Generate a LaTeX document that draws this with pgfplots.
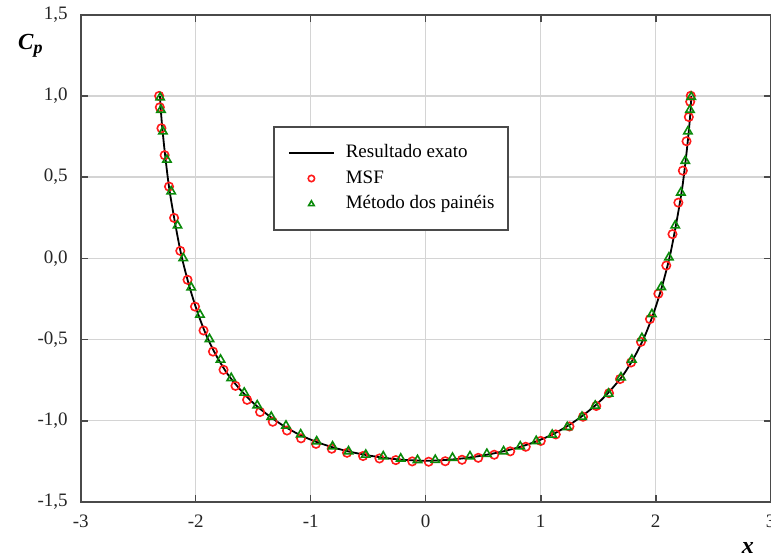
\documentclass[border=0pt]{standalone}
\usepackage{fontspec}
\setmainfont{Liberation Serif}
\usepackage{pgfplots}
\pgfplotsset{compat=1.18}

\definecolor{gridgray}{HTML}{D4D4D4}
\definecolor{axgray}{HTML}{4A4A4A}
\definecolor{msfred}{HTML}{FF1A1A}
\definecolor{pangreen}{HTML}{0A8A0A}

% exact solution
\pgfplotstableread{
x y
-2.310 1.000
-2.305 0.930
-2.290 0.800
-2.265 0.630
-2.230 0.430
-2.180 0.220
-2.125 0.020
-2.060 -0.160
-1.990 -0.320
-1.910 -0.470
-1.820 -0.600
-1.720 -0.715
-1.610 -0.810
-1.500 -0.890
-1.380 -0.960
-1.250 -1.025
-1.100 -1.085
-0.950 -1.130
-0.800 -1.165
-0.650 -1.192
-0.500 -1.213
-0.350 -1.229
-0.200 -1.240
0.000 -1.246
0.200 -1.240
0.350 -1.229
0.500 -1.213
0.650 -1.192
0.800 -1.165
0.950 -1.130
1.100 -1.085
1.250 -1.025
1.380 -0.960
1.500 -0.890
1.610 -0.810
1.720 -0.715
1.820 -0.600
1.910 -0.470
1.990 -0.320
2.060 -0.160
2.125 0.020
2.180 0.220
2.230 0.430
2.265 0.630
2.290 0.800
2.305 0.930
2.310 1.000
}\exato

% MSF
\pgfplotstableread{
x y
-2.318 1.000
-2.312 0.930
-2.298 0.801
-2.270 0.635
-2.232 0.442
-2.188 0.249
-2.134 0.046
-2.071 -0.132
-2.006 -0.297
-1.932 -0.444
-1.850 -0.574
-1.758 -0.686
-1.654 -0.785
-1.553 -0.871
-1.440 -0.946
-1.330 -1.006
-1.206 -1.060
-1.084 -1.108
-0.954 -1.142
-0.817 -1.172
-0.684 -1.197
-0.545 -1.217
-0.402 -1.232
-0.260 -1.242
-0.117 -1.250
0.026 -1.252
0.170 -1.249
0.316 -1.240
0.457 -1.228
0.596 -1.209
0.735 -1.188
0.870 -1.160
1.001 -1.124
1.131 -1.084
1.250 -1.035
1.368 -0.975
1.483 -0.909
1.594 -0.830
1.690 -0.743
1.786 -0.641
1.872 -0.514
1.950 -0.374
2.023 -0.218
2.092 -0.044
2.146 0.149
2.197 0.343
2.236 0.540
2.268 0.721
2.288 0.870
2.300 0.964
2.305 1.001
}\msf

% panel method
\pgfplotstableread{
x y
-2.309 0.990
-2.302 0.914
-2.285 0.781
-2.250 0.607
-2.213 0.412
-2.158 0.202
-2.108 0.001
-2.039 -0.179
-1.963 -0.347
-1.880 -0.497
-1.784 -0.624
-1.691 -0.737
-1.578 -0.827
-1.465 -0.905
-1.343 -0.976
-1.215 -1.030
-1.087 -1.084
-0.948 -1.127
-0.810 -1.158
-0.671 -1.188
-0.521 -1.209
-0.369 -1.219
-0.217 -1.233
-0.071 -1.242
0.083 -1.241
0.233 -1.228
0.385 -1.219
0.532 -1.204
0.677 -1.188
0.822 -1.158
0.961 -1.125
1.100 -1.086
1.231 -1.039
1.359 -0.976
1.474 -0.907
1.590 -0.833
1.698 -0.733
1.793 -0.624
1.880 -0.491
1.967 -0.344
2.048 -0.177
2.115 0.005
2.170 0.202
2.219 0.405
2.257 0.600
2.280 0.781
2.298 0.914
2.309 0.994
}\paineis

\begin{document}
\begin{tikzpicture}[x=0.5pt,y=0.5pt]
\begin{axis}[
    at={(0,0)}, anchor=south west,
    scale only axis,
    width=345pt, height=243.65pt,
    xmin=-3, xmax=3,
    ymin=-1.5, ymax=1.5,
    xtick={-3,-2,-1,0,1,2,3},
    xticklabels={-3,-2,-1,0,1,2,3},
    ytick={-1.5,-1,-0.5,0,0.5,1,1.5},
    /pgf/number format/fixed,
    /pgf/number format/fixed zerofill,
    /pgf/number format/precision=1,
    /pgf/number format/use comma,
    /pgf/number format/assume math mode=true,
    tick label style={font=\fontsize{9.5}{11}\selectfont, text=black!85},
    xticklabel style={yshift=-3pt},
    yticklabel style={xshift=-3pt},
    tick align=inside,
    major tick length=3.5pt,
    tick style={axgray, line width=0.8pt},
    grid=major,
    grid style={gridgray, line width=0.7pt},
    axis line style={axgray, line width=1pt},
    xlabel={\textbf{\textit{x}}},
    ylabel={\textbf{\textit{C}}\raisebox{-0.35ex}{\fontsize{9}{10}\selectfont\textbf{\textit{p}}}},
    every axis x label/.style={at={(rel axis cs:0.967,-0.094)}, anchor=center, font=\fontsize{12}{14}\selectfont},
    every axis y label/.style={at={(rel axis cs:-0.073,0.936)}, anchor=center, font=\fontsize{11.5}{13}\selectfont},
    legend cell align=left,
    legend style={
        at={(rel axis cs:0.279,0.7716)}, anchor=north west,
        draw=axgray, line width=1pt,
        font=\fontsize{9.5}{11}\selectfont,
        nodes={inner sep=0pt, text height=7pt, text depth=2pt},
        row sep=3.75pt, column sep=5.5pt,
        inner xsep=6.9pt, inner ysep=8.5pt,
    },
    legend image code/.code={\draw[mark repeat=2,mark phase=2,mark size=1.6pt,#1] plot coordinates {(0pt,0pt) (11.25pt,0pt) (22.5pt,0pt)};},
]
\addplot[black, line width=0.9pt, smooth, mark=none] table {\exato};
\addlegendentry{Resultado exato}
\addplot[only marks, mark=o, mark size=2.1pt, mark options={draw=msfred, line width=0.8pt}] table {\msf};
\addlegendentry{MSF}
\addplot[only marks, mark=triangle, mark size=2.4pt, mark options={draw=pangreen, line width=0.8pt}] table {\paineis};
\addlegendentry{Método dos painéis\hspace{4.5pt}}
\end{axis}
\pgfresetboundingbox
\path[use as bounding box] (-80.7,-56) rectangle (690.3,502);
\end{tikzpicture}
\end{document}
